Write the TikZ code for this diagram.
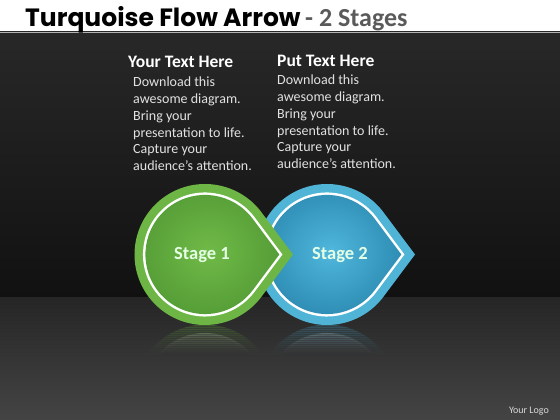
\documentclass[tikz,border=0pt]{standalone}
\usepackage{fontspec}
\setmainfont{Carlito}
\newfontfamily\titlefont{Poppins}

\definecolor{bgtop}{HTML}{282828}
\definecolor{bgbottom}{HTML}{111111}
\definecolor{floortop}{HTML}{262626}
\definecolor{floorbottom}{HTML}{444444}
\definecolor{titlegray}{HTML}{5A5A5A}
\definecolor{bodygray}{HTML}{E2E2E2}
\definecolor{stagegreen}{HTML}{6DB544}
\definecolor{greenlight}{HTML}{70BA48}
\definecolor{greendark}{HTML}{559D36}
\definecolor{stageblue}{HTML}{50B4D6}
\definecolor{bluelight}{HTML}{50B7DC}
\definecolor{bluedark}{HTML}{2E8DB4}

\tikzset{
  headtext/.style={white, anchor=base west, inner sep=0pt, font=\bfseries\fontsize{17.5}{20}\selectfont},
  bodytext/.style={text=bodygray, anchor=north west, align=left, inner sep=0pt, font=\fontsize{14}{16.7}\selectfont},
  stagetext/.style={text=white!90!green, font=\bfseries\fontsize{18.5}{20}\selectfont},
}

\newcommand{\droppath}{(88,0) -- (36.8:70.5) arc[start angle=36.8, end angle=323.2, radius=70.5] -- cycle}

\begin{document}
\begin{tikzpicture}[x=1pt,y=1pt]
\useasboundingbox (0,0) rectangle (560,420);

% background
\fill[white] (0,388) rectangle (560,420);
\shade[top color=bgtop, bottom color=bgbottom] (0,122) rectangle (560,388);
\shade[top color=floortop, bottom color=floorbottom] (0,0) rectangle (560,122);
\draw[gray!60, line width=1] (0,387.5) -- (560,387.5); % rule under the title

% title
\node[anchor=base west, inner sep=0pt, font=\titlefont\bfseries\fontsize{25}{28}\selectfont] (title) at (25,393) {Turquoise Flow Arrow};
\node[anchor=base west, inner sep=0pt, text=titlegray, font=\bfseries\fontsize{26}{30}\selectfont] (subtitle) at (305,393) {- 2 Stages};

% text columns
\node[headtext] (headone) at (128,352) {Your Text Here};
\node[bodytext] (bodyone) at (133,343) {Download this\\awesome diagram.\\Bring your\\presentation to life.\\Capture your\\audience’s attention.};
\node[headtext] (headtwo) at (277,353) {Put Text Here};
\node[bodytext] (bodytwo) at (277,345) {Download this\\awesome diagram.\\Bring your\\presentation to life.\\Capture your\\audience’s attention.};

% reflections, faded in thin bands
\foreach \i in {0,...,15} {
  \pgfmathsetmacro{\top}{96-2*\i}
  \pgfmathsetmacro{\op}{0.17*(1-\i/16)^1.5}
  \begin{scope}
  \clip (0,\top-2) rectangle (560,\top);
  \begin{scope}[shift={(327,25)}, yscale=-1]
  \fill[stageblue, opacity=\op] \droppath;
  \fill[white, opacity=\op, scale=.88] \droppath;
  \fill[bluedark!30!black, opacity=\op, scale=.845] \droppath;
  \end{scope}
  \begin{scope}[shift={(205,25)}, yscale=-1]
  \fill[stagegreen, opacity=\op] \droppath;
  \fill[white, opacity=\op, scale=.88] \droppath;
  \fill[greendark!30!black, opacity=\op, scale=.845] \droppath;
  \end{scope}
  \end{scope}
}

% stage 2 (behind)
\begin{scope}[shift={(327,165.5)}]
\fill[stageblue] \droppath;
\fill[white, scale=.88] \droppath;
\shade[inner color=bluelight, outer color=bluedark, scale=.845] \droppath;
\end{scope}
\node[stagetext] (stagetwo) at (340,165) {Stage 2};

% stage 1 (front)
\begin{scope}[shift={(205,165.5)}]
\fill[stagegreen] \droppath;
\fill[white, scale=.88] \droppath;
\shade[inner color=greenlight, outer color=greendark, scale=.845] \droppath;
\end{scope}
\node[stagetext] (stageone) at (202,165) {Stage 1};

\node[anchor=base east, inner sep=0pt, text=white!85!black, font=\fontsize{10}{11}\selectfont] (logo) at (549,6) {Your Logo};
\end{tikzpicture}
\end{document}
